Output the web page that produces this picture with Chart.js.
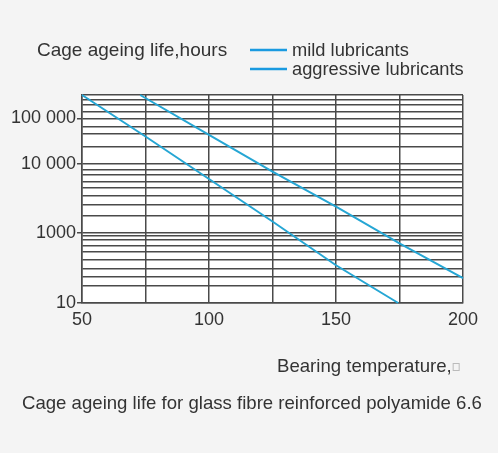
<!DOCTYPE html>
<html>
<head>
<meta charset="utf-8">
<script src="https://cdn.jsdelivr.net/npm/chart.js@4.4.0/dist/chart.umd.min.js"></script>
<style>
  html, body { margin: 0; padding: 0; background: #f4f4f4; }
  #wrap { width: 498px; height: 453px; position: relative; }
</style>
</head>
<body>
<div id="wrap"><canvas id="c" width="498" height="453"></canvas></div>
<script>
// ---- data ----
const mildTemp = [72.9, 100, 125, 150, 175, 200];
const mildLife = [100000, 26700, 7850, 2450, 723, 228];
const aggressiveTemp = [50, 75, 100, 125, 150, 174.5];
const aggressiveLife = [100000, 25200, 6150, 1500, 350, 100];
const seriesNames = ['mild lubricants', 'aggressive lubricants'];

const xTicks = [50, 75, 100, 125, 150, 175, 200];
const xTickLabels = ['50', '', '100', '', '150', '', '200'];

const yGridValues = [100, 180, 240, 315, 415, 550, 680, 830, 920, 1030,
  1800, 2650, 3530, 4600, 5700, 7030, 8300, 10100,
  18000, 27800, 34800, 45800, 57300, 71700, 84700, 100000];
const yLabelValues = [100, 1030, 10100, 45800];
const yLabelTexts = ['10', '1000', '10 000', '100 000'];

const yTitle = 'Cage ageing life,hours';
const xTitle = 'Bearing temperature,';
const caption = 'Cage ageing life for glass fibre reinforced polyamide 6.6';

// ---- chart ----
const FONT = "'Liberation Sans', Arial, sans-serif";
const TEXT = '#333333';
const GRID = '#4a4a4a';
const LINE = '#25a6d4';
const LEG = '#1a9ae0';

const toPts = (xs, ys) => xs.map((x, i) => ({ x: x, y: ys[i] }));

const decor = {
  id: 'decor',
  beforeDraw(chart) {
    const { ctx, chartArea: a } = chart;
    ctx.save();
    ctx.fillStyle = '#f4f4f4';
    ctx.fillRect(0, 0, chart.width, chart.height);
    ctx.fillStyle = '#ffffff';
    ctx.fillRect(a.left, a.top, a.right - a.left, a.bottom - a.top);
    ctx.restore();
  },
  afterDraw(chart) {
    const { ctx } = chart;
    ctx.save();
    ctx.fillStyle = TEXT;
    ctx.textBaseline = 'middle';
    ctx.textAlign = 'left';
    ctx.font = '19px ' + FONT;
    ctx.fillText(yTitle, 37, 51);
    // legend
    ctx.font = '18.3px ' + FONT;
    const rows = [51, 70];
    chart.data.datasets.forEach((ds, i) => {
      ctx.strokeStyle = LEG;
      ctx.lineWidth = 2.5;
      ctx.beginPath();
      ctx.moveTo(250, rows[i] - 1);
      ctx.lineTo(287, rows[i] - 1);
      ctx.stroke();
      ctx.fillStyle = TEXT;
      ctx.fillText(ds.label, 292, rows[i]);
    });
    // x title
    ctx.font = '18.6px ' + FONT;
    ctx.fillText(xTitle, 277, 367);
    const w = ctx.measureText(xTitle).width;
    ctx.strokeStyle = '#bbbbbb';
    ctx.lineWidth = 1;
    ctx.strokeRect(277 + w + 1.5, 363.5, 6, 7);
    // caption
    ctx.fillText(caption, 22, 404);
    ctx.restore();
  }
};

new Chart(document.getElementById('c'), {
  type: 'line',
  data: {
    datasets: [
      { label: seriesNames[0], data: toPts(mildTemp, mildLife) },
      { label: seriesNames[1], data: toPts(aggressiveTemp, aggressiveLife) }
    ].map(d => Object.assign(d, {
      borderColor: LINE, borderWidth: 2, pointRadius: 0, tension: 0, fill: false, clip: false
    }))
  },
  options: {
    responsive: false,
    animation: false,
    layout: { padding: { top: 95, right: 35, left: 0, bottom: 0 } },
    plugins: { legend: { display: false }, title: { display: false }, tooltip: { enabled: false } },
    scales: {
      x: {
        type: 'linear', min: 50, max: 200,
        afterBuildTicks: s => { s.ticks = xTicks.map(v => ({ value: v })); },
        afterFit: s => { s.height = 150; },
        grid: { color: GRID, lineWidth: 1.5, drawTicks: false },
        border: { color: GRID, width: 1.5 },
        ticks: {
          color: TEXT, font: { size: 18, family: FONT }, padding: 6, maxRotation: 0, autoSkip: false,
          callback: (v) => { const i = xTicks.indexOf(v); return i >= 0 ? xTickLabels[i] : ''; }
        }
      },
      y: {
        type: 'logarithmic', min: 100, max: 100000,
        afterBuildTicks: s => { s.ticks = yGridValues.map(v => ({ value: v })); },
        afterFit: s => { s.width = 82; },
        grid: {
          color: GRID, lineWidth: 1.5, drawTicks: true, tickLength: 5,
          tickColor: (c) => (c.tick && yLabelValues.indexOf(c.tick.value) >= 0) ? GRID : 'rgba(0,0,0,0)'
        },
        border: { color: GRID, width: 1.5 },
        ticks: {
          color: TEXT, font: { size: 18, family: FONT }, padding: 1, autoSkip: false,
          callback: (v) => { const i = yLabelValues.indexOf(v); return i >= 0 ? yLabelTexts[i] : ''; }
        }
      }
    }
  },
  plugins: [decor]
});
</script>
</body>
</html>
